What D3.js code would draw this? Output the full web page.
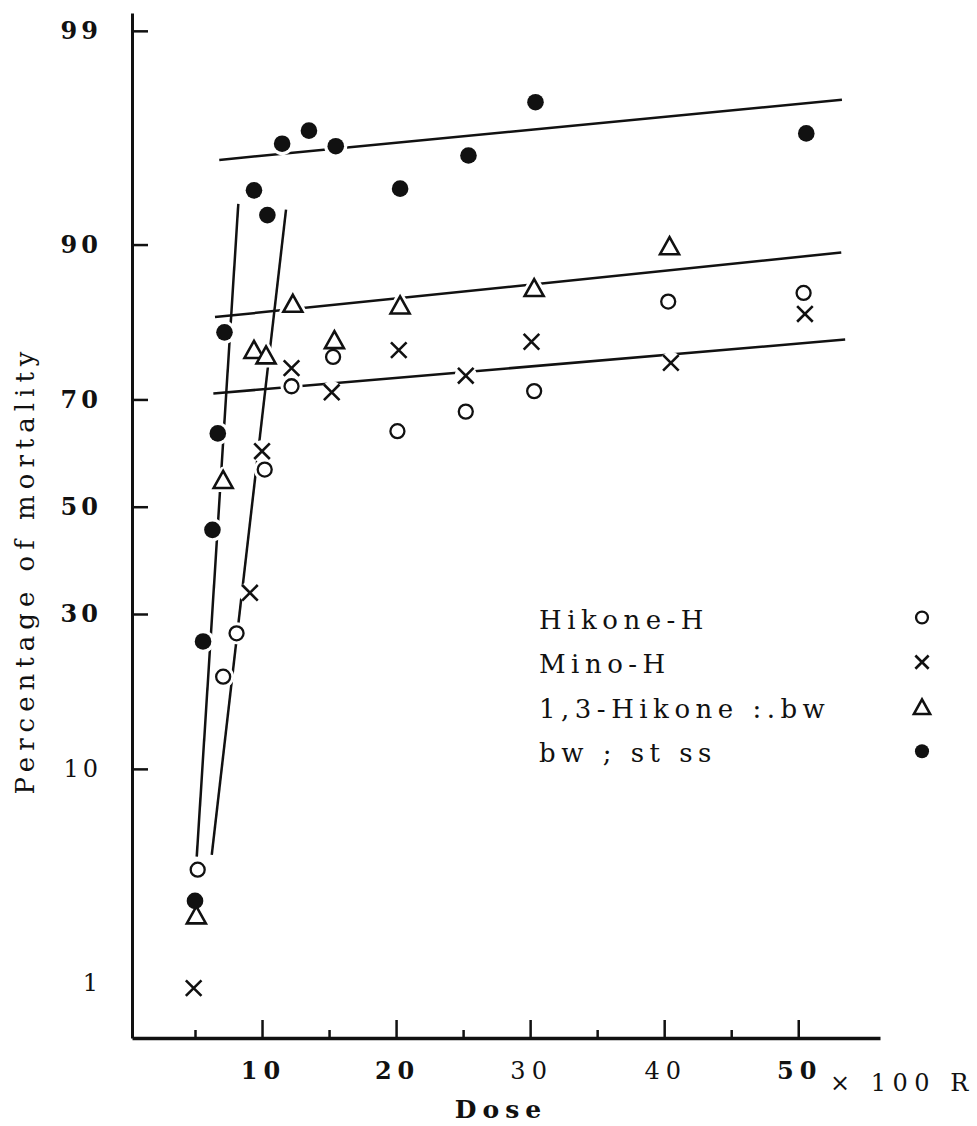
<!DOCTYPE html>
<html>
<head>
<meta charset="utf-8">
<script src="https://cdn.jsdelivr.net/npm/d3@7"></script>
<style>
  body { margin: 0; background: #fff; }
  svg text { font-family: "DejaVu Serif", serif; fill: #111; }
</style>
</head>
<body>
<div id="chart"></div>
<script>
// dose (x100 R), mortality (%)
var hikoneH  = [[5.2, 3.8], [7.1, 20.3], [8.1, 26.8], [10.2, 57.2], [12.2, 72.2], [15.3, 76.8],
                [20.1, 64.4], [25.2, 67.9], [30.3, 71.4], [40.3, 84.2], [50.4, 85.2]];
var minoH    = [[4.9, 0.93], [9.1, 33.7], [10.0, 60.7], [12.2, 75.1], [15.2, 71.2], [20.2, 77.8],
                [25.2, 73.9], [30.1, 79.0], [40.5, 75.9], [50.5, 82.7]];
var hikone13 = [[5.1, 2.3], [7.1, 55.3], [9.4, 77.9], [10.3, 77.1], [12.3, 84.0], [15.4, 79.3],
                [20.3, 83.8], [30.3, 85.8], [40.4, 89.9]];
var bwStSs   = [[5.0, 2.7], [5.6, 25.5], [6.3, 45.5], [6.7, 64.0], [7.2, 80.3], [9.4, 93.9],
                [10.4, 92.3], [11.5, 96.2], [13.5, 96.7], [15.5, 96.1], [20.3, 94.0], [25.4, 95.7],
                [30.4, 97.6], [50.6, 96.6]];

// fitted lines drawn by hand in the figure (endpoints)
var fitLines = [
  [[6.81, 95.5], [53.26, 97.67]],
  [[6.49, 82.3], [53.21, 89.3]],
  [[6.37, 71.0], [53.5, 79.3]],
  [[5.13, 4.36], [8.23, 93.06]],
  [[6.25, 4.44], [11.79, 92.68]]
];

var yTicks = [1, 10, 30, 50, 70, 90, 99];
var xMajor = [10, 20, 30, 40, 50];
var xMinor = [5, 15, 25, 35, 45];
var xDomain = [0.3, 56.1];
var yDomain = [0.47, 99.21];

var legendLabels = ["Hikone-H", "Mino-H", "1,3-Hikone :.bw", "bw ; st ss"];
var legendTypes  = ["open", "cross", "triangle", "filled"];

// inverse normal cdf (Acklam)
function probit(p) {
  var a = [-3.969683028665376e+01, 2.209460984245205e+02, -2.759285104469687e+02, 1.383577518672690e+02, -3.066479806614716e+01, 2.506628277459239e+00];
  var b = [-5.447609879822406e+01, 1.615858368580409e+02, -1.556989798598866e+02, 6.680131188771972e+01, -1.328068155288572e+01];
  var c = [-7.784894002430293e-03, -3.223964580411365e-01, -2.400758277161838e+00, -2.549732539343734e+00, 4.374664141464968e+00, 2.938163982698783e+00];
  var d = [7.784695709041462e-03, 3.224671290700398e-01, 2.445134137142996e+00, 3.754408661907416e+00];
  var plow = 0.02425, q, r;
  if (p < plow) {
    q = Math.sqrt(-2 * Math.log(p));
    return (((((c[0]*q+c[1])*q+c[2])*q+c[3])*q+c[4])*q+c[5]) / ((((d[0]*q+d[1])*q+d[2])*q+d[3])*q+1);
  }
  if (p > 1 - plow) {
    q = Math.sqrt(-2 * Math.log(1 - p));
    return -(((((c[0]*q+c[1])*q+c[2])*q+c[3])*q+c[4])*q+c[5]) / ((((d[0]*q+d[1])*q+d[2])*q+d[3])*q+1);
  }
  q = p - 0.5; r = q * q;
  return (((((a[0]*r+a[1])*r+a[2])*r+a[3])*r+a[4])*r+a[5])*q / (((((b[0]*r+b[1])*r+b[2])*r+b[3])*r+b[4])*r+1);
}

var margin = {top: 13, right: 97, bottom: 88, left: 132},
  width = 977 - margin.left - margin.right,
  height = 1126 - margin.top - margin.bottom;

var svg = d3.select("#chart").append("svg")
  .attr("width", 977)
  .attr("height", 1126)
  .style("background", "#fff");

var g = svg.append("g")
  .attr("transform", "translate(" + margin.left + "," + margin.top + ")");

var x = d3.scaleLinear().domain(xDomain).range([0, width]);
var yz = d3.scaleLinear()
  .domain([probit(yDomain[0] / 100), probit(yDomain[1] / 100)])
  .range([height, 0]);
var y = function(pct) { return yz(probit(pct / 100)); };

// y axis (probit scale)
var yAxis = d3.axisLeft(yz)
  .tickValues(yTicks.map(function(p) { return probit(p / 100); }))
  .tickFormat(function(d, i) { return yTicks[i]; })
  .tickSize(-16)
  .tickSizeOuter(0)
  .tickPadding(34);

var yg = g.append("g").attr("class", "y axis").call(yAxis);
yg.attr("font-family", null).attr("font-size", null);
yg.select(".domain").attr("stroke-width", 3).attr("stroke", "#111");
yg.selectAll(".tick line").attr("stroke-width", 2.5).attr("stroke", "#111");
yg.selectAll(".tick").filter(function(d, i) { return yTicks[i] === 1; }).select("line").remove();
yg.selectAll(".tick text")
  .style("font-size", "24px")
  .style("letter-spacing", "4px")
  .style("font-weight", function(d, i) { return yTicks[i] <= 10 ? "normal" : "bold"; })
  .attr("dx", "4px");

// x axis
var xAxis = d3.axisBottom(x)
  .tickValues(xMajor)
  .tickSize(-18)
  .tickSizeOuter(0)
  .tickPadding(24);

var xg = g.append("g").attr("class", "x axis")
  .attr("transform", "translate(0," + height + ")")
  .call(xAxis);
xg.attr("font-family", null).attr("font-size", null);
xg.select(".domain").attr("stroke-width", 3.5).attr("stroke", "#111");
xg.selectAll(".tick line").attr("stroke-width", 2.5).attr("stroke", "#111");
xg.selectAll(".tick text")
  .style("font-size", "24px")
  .style("letter-spacing", "6px")
  .style("font-weight", function(d) { return d === 30 || d === 40 ? "normal" : "bold"; })
  .attr("dx", "1px");

var xMinorAxis = d3.axisBottom(x)
  .tickValues(xMinor)
  .tickSize(-8)
  .tickFormat("");
var xmg = g.append("g").attr("class", "x minor")
  .attr("transform", "translate(0," + height + ")")
  .call(xMinorAxis);
xmg.select(".domain").remove();
xmg.selectAll(".tick line").attr("stroke-width", 2.5).attr("stroke", "#111");

// axis titles
svg.append("text")
  .attr("x", 830)
  .attr("y", 1091)
  .style("font-size", "24px")
  .style("letter-spacing", "6.5px")
  .text("\u00d7 100 R");

svg.append("text")
  .attr("x", 501)
  .attr("y", 1118)
  .attr("text-anchor", "middle")
  .style("font-size", "25px")
  .style("font-weight", "bold")
  .style("letter-spacing", "6px")
  .text("Dose");

svg.append("text")
  .attr("transform", "translate(34,570) rotate(-90)")
  .attr("text-anchor", "middle")
  .style("font-size", "26px")
  .style("letter-spacing", "6px")
  .text("Percentage of mortality");

// fitted lines
var line = d3.line()
  .x(function(d) { return x(d[0]); })
  .y(function(d) { return y(d[1]); });

g.selectAll(".fit")
  .data(fitLines)
  .join("path")
  .attr("class", "fit")
  .attr("d", line)
  .attr("fill", "none")
  .attr("stroke", "#111")
  .attr("stroke-width", 2.5);

// white halo that breaks the lines around a marker
function drawHalo(sel, type, k) {
  if (type === "triangle") {
    var w = 9.5 * k, h = 8.5 * k;
    sel.append("path")
      .attr("d", "M0," + (-h) + "L" + w + "," + h + "L" + (-w) + "," + h + "Z")
      .attr("fill", "#fff").attr("stroke", "#fff")
      .attr("stroke-width", 8).attr("stroke-linejoin", "round");
  } else {
    var r = type === "filled" ? 11.5 : 11;
    sel.append("circle").attr("r", r * k).attr("fill", "#fff");
  }
}

function drawMarker(sel, type, k) {
  if (type === "open") {
    sel.append("circle").attr("r", 7 * k).attr("fill", "#fff")
      .attr("stroke", "#111").attr("stroke-width", 2.3);
  } else if (type === "filled") {
    sel.append("circle").attr("r", 8.3 * k).attr("fill", "#111");
  } else if (type === "cross") {
    var s = 7.8 * k;
    sel.append("path")
      .attr("d", "M" + (-s) + "," + (-s) + "L" + s + "," + s + "M" + (-s) + "," + s + "L" + s + "," + (-s))
      .attr("stroke", "#111").attr("stroke-width", 2.6).attr("fill", "none");
  } else if (type === "triangle") {
    var w = 9.5 * k, h = 8.5 * k;
    sel.append("path")
      .attr("d", "M0," + (-h) + "L" + w + "," + h + "L" + (-w) + "," + h + "Z")
      .attr("fill", "#fff")
      .attr("stroke", "#111").attr("stroke-width", 2.6);
  }
}

var series = [
  {data: hikoneH, type: "open"},
  {data: minoH, type: "cross"},
  {data: hikone13, type: "triangle"},
  {data: bwStSs, type: "filled"}
];

var pos = function(d) { return "translate(" + x(d[0]) + "," + y(d[1]) + ")"; };

series.forEach(function(s) {
  g.selectAll(".h-" + s.type)
    .data(s.data)
    .join("g")
    .attr("class", "h-" + s.type)
    .attr("transform", pos)
    .each(function() { drawHalo(d3.select(this), s.type, 1); });
});

series.forEach(function(s) {
  g.selectAll(".m-" + s.type)
    .data(s.data)
    .join("g")
    .attr("class", "m-" + s.type)
    .attr("transform", pos)
    .each(function() { drawMarker(d3.select(this), s.type, 1); });
});

// legend
var legend = svg.selectAll(".legend")
  .data(legendLabels)
  .join("g")
  .attr("class", "legend")
  .attr("transform", function(d, i) { return "translate(0," + (628.5 + i * 44.6) + ")"; });

legend.append("text")
  .attr("x", 539)
  .attr("y", 0)
  .style("font-size", "26px")
  .style("letter-spacing", "5.5px")
  .text(function(d) { return d; });

legend.append("g")
  .attr("transform", "translate(922,-11)")
  .each(function(d, i) { drawMarker(d3.select(this), legendTypes[i], 0.85); });
</script>
</body>
</html>
